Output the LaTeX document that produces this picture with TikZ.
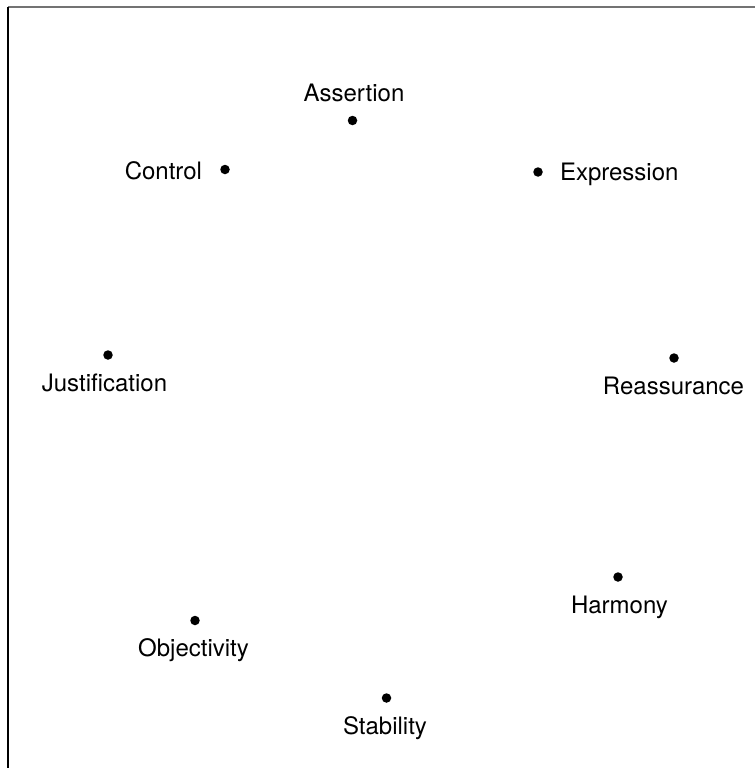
\documentclass[tikz,border=0pt]{standalone}
\usepackage{fontspec}
\setmainfont{TeX Gyre Heros}
\begin{document}
\begin{tikzpicture}[x=1pt,y=-1pt,
  dot/.style={circle,fill=black,inner sep=0pt,minimum size=9.5pt},
  lbl/.style={inner sep=0pt,outer sep=0pt,font=\fontsize{24}{28}\selectfont},
  frameline/.style={line width=1.2pt}]
\useasboundingbox (0,0) rectangle (755,768);
% frame
\coordinate (tl) at (8,7);
\coordinate (tr) at (755,7);
\coordinate (bl) at (8,768);
\draw[frameline,black!55] (tl) -- (tr);
\draw[frameline,black] (tl) -- (bl);
% dots
\node[dot] (assertion) at (352.5,120.5) {};
\node[dot] (control) at (225,169.5) {};
\node[dot] (expression) at (538,172) {};
\node[dot] (justification) at (108,355) {};
\node[dot] (reassurance) at (674,358) {};
\node[dot] (harmony) at (618,577) {};
\node[dot] (objectivity) at (195,620.5) {};
\node[dot] (stability) at (386.5,698) {};
% labels
\node[lbl,anchor=base] (lassertion) at (354,101.5) {Assertion};
\node[lbl,anchor=base east] (lcontrol) at (202,179.5) {Control};
\node[lbl,anchor=base west] (lexpression) at (560,180.5) {Expression};
\node[lbl,anchor=base] (ljustification) at (104.5,391) {Justification};
\node[lbl,anchor=base] (lreassurance) at (673.5,394.5) {Reassurance};
\node[lbl,anchor=base] (lharmony) at (619.5,613.5) {Harmony};
\node[lbl,anchor=base] (lobjectivity) at (193.5,656) {Objectivity};
\node[lbl,anchor=base] (lstability) at (385,734) {Stability};
\end{tikzpicture}
\end{document}
